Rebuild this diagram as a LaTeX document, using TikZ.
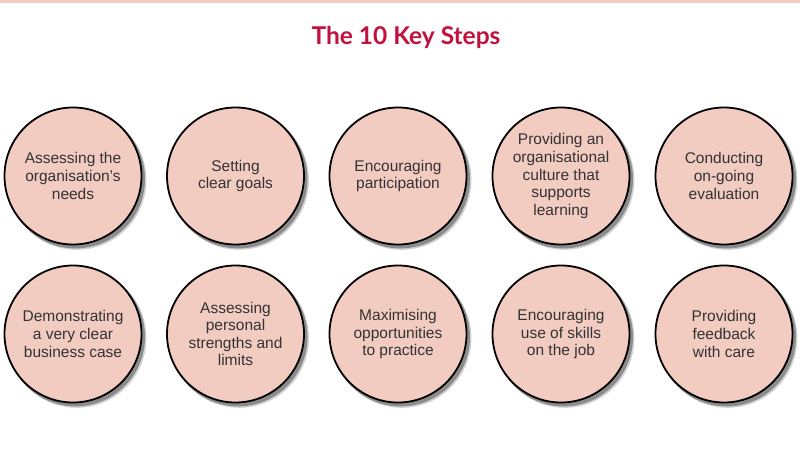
\documentclass[tikz,border=0pt]{standalone}
\usepackage{fontspec}
\setmainfont{Liberation Sans}
\newfontfamily\bodyfont{Liberation Sans}
\newfontfamily\titlefont{Lato}
\definecolor{pinkfill}{HTML}{F2CBC1}
\definecolor{titlered}{HTML}{C1123F}
\definecolor{txtgray}{HTML}{333333}
\tikzset{
  stepcircle/.style={circle, draw=black, line width=1.8pt, fill=pinkfill,
    minimum size=137pt, inner sep=0pt, align=center, text=txtgray,
    font=\bodyfont\fontsize{15.5}{17.6}\selectfont},
  shadowout/.style={fill=black!18},
  shadowin/.style={fill=black!45},
}
\begin{document}
\begin{tikzpicture}[x=1pt,y=-1pt]
\useasboundingbox (0,0) rectangle (800,465);
\fill[pinkfill] (0,0) rectangle (800,3);
\node[font=\titlefont\bfseries\fontsize{24.5}{28}\selectfont, text=titlered] (title) at (406,37) {The 10 Key Steps};
\foreach \i/\x/\y in {1/73/176, 2/235.5/176, 3/398/176, 4/561/176, 5/724/176,
                      6/73/334, 7/235.5/334, 8/398/334, 9/561/334, 10/724/334} {
  \coordinate (c\i) at (\x,\y);
  \fill[shadowout] ([shift={(3.8pt,-4.2pt)}]c\i) circle[radius=69.6pt];
  \fill[shadowin] ([shift={(2.6pt,-3pt)}]c\i) circle[radius=69.4pt];
}
\node[stepcircle] (s1) at (c1) {Assessing the\\organisation’s\\needs};
\node[stepcircle] (s2) at (c2) {Setting\\clear goals};
\node[stepcircle] (s3) at (c3) {Encouraging\\participation};
\node[stepcircle] (s4) at (c4) {Providing an\\organisational\\culture that\\supports\\learning};
\node[stepcircle] (s5) at (c5) {Conducting\\on-going\\evaluation};
\node[stepcircle] (s6) at (c6) {Demonstrating\\a very clear\\business case};
\node[stepcircle] (s7) at (c7) {Assessing\\personal\\strengths and\\limits};
\node[stepcircle] (s8) at (c8) {Maximising\\opportunities\\to practice};
\node[stepcircle] (s9) at (c9) {Encouraging\\use of skills\\on the job};
\node[stepcircle] (s10) at (c10) {Providing\\feedback\\with care};
\end{tikzpicture}
\end{document}
